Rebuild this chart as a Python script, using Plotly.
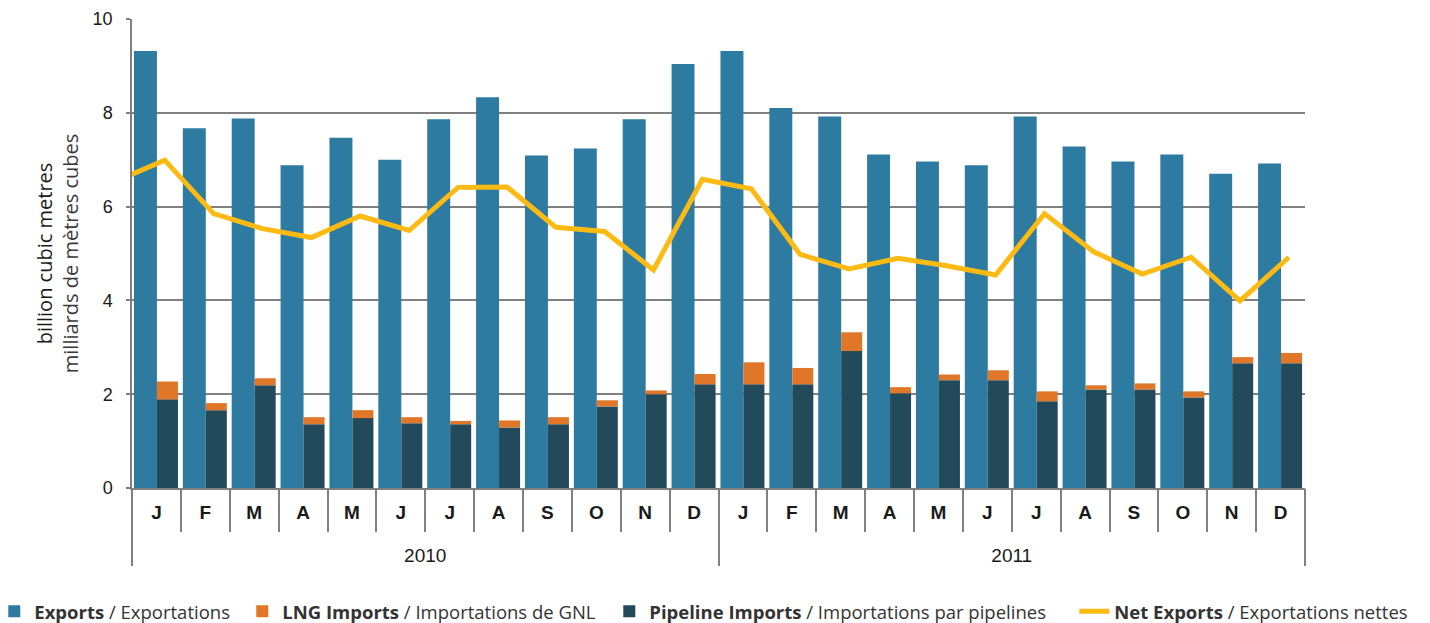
import plotly.graph_objects as go

# ---- data (billion cubic metres) ----
years = ["2010"] * 12 + ["2011"] * 12
months = ["J", "F", "M", "A", "M", "J", "J", "A", "S", "O", "N", "D"] * 2

exports = [9.32, 7.67, 7.88, 6.88, 7.47, 7.00, 7.86, 8.33, 7.09, 7.24, 7.86, 9.04,
           9.32, 8.10, 7.92, 7.11, 6.96, 6.88, 7.92, 7.28, 6.96, 7.11, 6.70, 6.92]
pipeline_imports = [1.89, 1.66, 2.19, 1.36, 1.49, 1.38, 1.36, 1.29, 1.36, 1.74, 2.00, 2.21,
                    2.21, 2.21, 2.92, 2.02, 2.30, 2.30, 1.85, 2.10, 2.10, 1.93, 2.66, 2.66]
lng_imports = [0.38, 0.15, 0.15, 0.15, 0.17, 0.13, 0.07, 0.15, 0.15, 0.13, 0.08, 0.22,
               0.47, 0.35, 0.40, 0.13, 0.12, 0.21, 0.21, 0.09, 0.13, 0.13, 0.13, 0.22]
net_exports = [6.99, 5.85, 5.53, 5.34, 5.80, 5.49, 6.41, 6.42, 5.56, 5.47, 4.65, 6.58,
               6.38, 4.98, 4.67, 4.90, 4.74, 4.54, 5.85, 5.04, 4.56, 4.92, 3.99, 4.92]
net_exports_dec_2009 = 6.54  # previous month, only its segment into Jan 2010 is visible

# ---- styles ----
C_EXP = "#2E7BA1"
C_LNG = "#E07627"
C_PIPE = "#234A5A"
C_NET = "#FDBA12"
C_GRID = "#808080"
C_TEXT = "#1A1A1A"
NUM_FONT = "Liberation Sans, Arial, sans-serif"
TXT_FONT = "Open Sans, Noto Sans, sans-serif"

n = len(months)
idx = list(range(n))
x_lo, x_hi = -0.5, n - 0.5

# year groups: centre positions and boundaries derived from the category list
year_names = []
for yr in years:
    if yr not in year_names:
        year_names.append(yr)
year_centres = []
year_bounds = [x_lo]
for yr in year_names:
    pos = [i for i, v in enumerate(years) if v == yr]
    year_centres.append(sum(pos) / len(pos))
    year_bounds.append(pos[-1] + 0.5)

# net exports line sits slightly right of the category centre
LINE_SHIFT = 0.17
x_line = [i + LINE_SHIFT for i in range(-1, n)]
y_line = [net_exports_dec_2009] + net_exports

fig = go.Figure()
fig.add_trace(go.Bar(
    x=idx, y=exports, name="<b>Exports</b> / Exportations", legend="legend",
    marker=dict(color=C_EXP, line=dict(width=0)), offset=-0.46, width=0.47,
))
fig.add_trace(go.Bar(
    x=idx, y=pipeline_imports, legend="legend3",
    name="<b>Pipeline Imports</b> / Importations par pipelines",
    marker=dict(color=C_PIPE, line=dict(width=0)), offset=0.01, width=0.43,
))
fig.add_trace(go.Bar(
    x=idx, y=lng_imports, base=pipeline_imports, legend="legend2",
    name="<b>LNG Imports</b> / Importations de GNL",
    marker=dict(color=C_LNG, line=dict(width=0)), offset=0.01, width=0.43,
))
fig.add_trace(go.Scatter(
    x=x_line, y=y_line, mode="lines", legend="legend4",
    name="<b>Net Exports</b> / Exportations nettes",
    line=dict(color=C_NET, width=5),
))
# empty helper traces so the overlay axes (separators, year labels) get drawn
for ax_id in ("x2", "x3", "x4"):
    fig.add_trace(go.Scatter(
        x=[x_lo, x_hi], y=[None, None], xaxis=ax_id, mode="markers",
        showlegend=False, hoverinfo="skip",
    ))

common_overlay = dict(overlaying="x", anchor="y", side="bottom", range=[x_lo, x_hi],
                      tickmode="array", showgrid=False, showline=False, zeroline=False)


def legend_box(x):
    return dict(orientation="h", x=x, xanchor="left", y=-0.264, yanchor="middle",
                font=dict(family=TXT_FONT, size=18.5, color="#333333"),
                bgcolor="rgba(0,0,0,0)")


fig.update_layout(
    width=1422, height=615,
    margin=dict(l=124, r=125, t=11, b=135, autoexpand=False),
    paper_bgcolor="white", plot_bgcolor="white",
    barmode="overlay",
    showlegend=True,
    hovermode=False,
    legend=legend_box(-0.1174),
    legend2=legend_box(0.0940),
    legend3=legend_box(0.4069),
    legend4=legend_box(0.8033),
    # month labels
    xaxis=dict(
        range=[x_lo, x_hi],
        tickmode="array", tickvals=idx, ticktext=months,
        showline=True, linecolor=C_GRID, linewidth=1.5,
        showgrid=False, zeroline=False,
        ticks="outside", ticklen=6, tickcolor="rgba(0,0,0,0)",
        tickfont=dict(family=NUM_FONT, size=19, color=C_TEXT, weight="bold"),
    ),
    # month separators
    xaxis2=dict(
        **common_overlay,
        tickvals=[i - 0.5 for i in range(n + 1)],
        ticks="outside", ticklen=43, tickcolor=C_GRID, tickwidth=1.5,
        showticklabels=False,
    ),
    # year labels
    xaxis3=dict(
        **common_overlay,
        tickvals=year_centres, ticktext=year_names,
        ticks="outside", ticklen=50, tickcolor="rgba(0,0,0,0)",
        tickfont=dict(family=NUM_FONT, size=19, color=C_TEXT),
    ),
    # year dividers
    xaxis4=dict(
        **common_overlay,
        tickvals=year_bounds,
        ticks="outside", ticklen=77, tickcolor=C_GRID, tickwidth=1.5,
        showticklabels=False,
    ),
    yaxis=dict(
        range=[0, 10], dtick=2,
        showgrid=True, gridcolor=C_GRID, gridwidth=1.5,
        zeroline=False,
        showline=True, linecolor=C_GRID, linewidth=1.5,
        ticks="outside", ticklen=4, tickcolor=C_GRID, tickwidth=1.5,
        ticklabelstandoff=10,
        tickfont=dict(family=NUM_FONT, size=18, color=C_TEXT),
        title=dict(
            text="billion cubic metres<br><span style='color:#3a3a3a'>milliards de mètres cubes</span>",
            font=dict(family=TXT_FONT, size=20, color=C_TEXT),
            standoff=9,
        ),
    ),
)

fig.write_html("out.html")
